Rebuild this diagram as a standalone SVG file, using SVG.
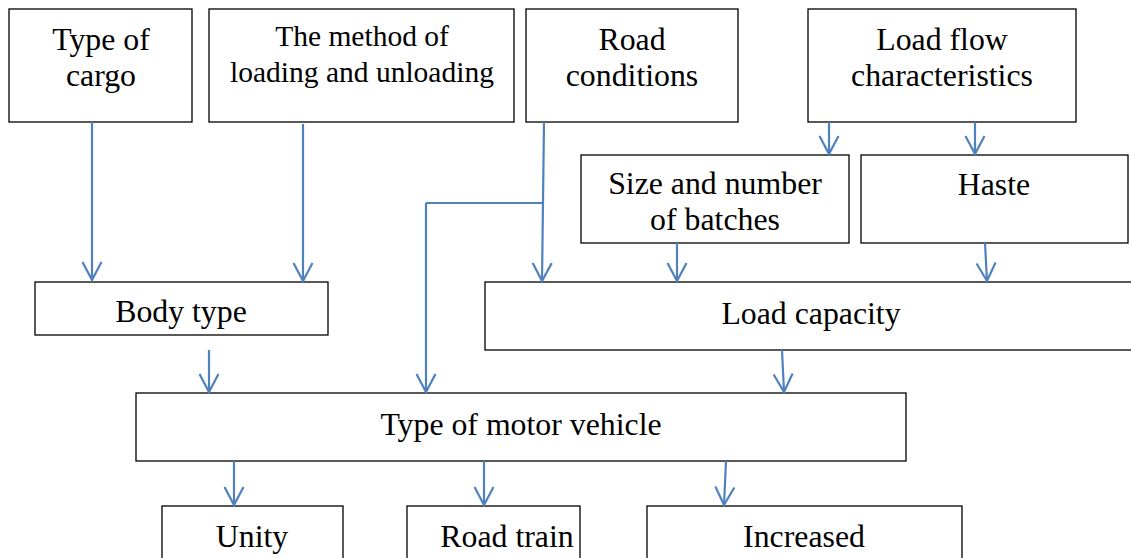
<svg xmlns="http://www.w3.org/2000/svg" width="1131" height="558" viewBox="0 0 1131 558">
<style>
.box{fill:#fff;stroke:#000;stroke-width:1.3}
.t{font-family:"Liberation Serif","Times New Roman",serif;font-size:31.8px;fill:#000;text-anchor:middle}
.s{font-size:29.5px}
.c{fill:none;stroke:#4F81BD;stroke-width:2.2;marker-end:url(#arr)}
.l{fill:none;stroke:#4F81BD;stroke-width:2.2}
</style>
<defs>
<marker id="arr" markerUnits="userSpaceOnUse" viewBox="-20 -12 22 24" markerWidth="22" markerHeight="24" refX="0" refY="0" orient="auto">
<path d="M-18,-9.5 L0,0 L-18,9.5" fill="none" stroke="#4F81BD" stroke-width="2.2"/>
</marker>
</defs>
<rect width="1131" height="558" fill="#fff"/>
<g id="n-cargo"><rect class="box" x="9" y="9" width="183" height="113"/><text class="t" x="101" y="50">Type of</text><text class="t" x="101" y="86">cargo</text></g>
<g id="n-method"><rect class="box" x="209" y="9" width="305" height="113"/><text class="t s" x="362" y="46">The method of</text><text class="t s" x="362" y="82">loading and unloading</text></g>
<g id="n-road"><rect class="box" x="526" y="9" width="212" height="113"/><text class="t" x="632" y="50">Road</text><text class="t" x="632" y="86">conditions</text></g>
<g id="n-flow"><rect class="box" x="808" y="9" width="268" height="113"/><text class="t" x="942" y="50">Load flow</text><text class="t" x="942" y="86">characteristics</text></g>
<g id="n-size"><rect class="box" x="581" y="155" width="268" height="88"/><text class="t" x="715" y="194">Size and number</text><text class="t" x="715" y="230">of batches</text></g>
<g id="n-haste"><rect class="box" x="861" y="155" width="267" height="88"/><text class="t" x="994" y="195">Haste</text></g>
<g id="n-body"><rect class="box" x="35" y="282" width="293" height="53"/><text class="t" x="181" y="322">Body type</text></g>
<g id="n-capacity"><rect class="box" x="485" y="282" width="660" height="68"/><text class="t" x="811" y="324">Load capacity</text></g>
<g id="n-vehicle"><rect class="box" x="136" y="393" width="770" height="68"/><text class="t" x="521" y="435">Type of motor vehicle</text></g>
<g id="n-unity"><rect class="box" x="162" y="506" width="181" height="70"/><text class="t" x="252" y="547">Unity</text></g>
<g id="n-train"><rect class="box" x="407" y="506" width="173" height="70"/><text class="t" x="507" y="547">Road train</text></g>
<g id="n-increased"><rect class="box" x="647" y="506" width="315" height="70"/><text class="t" x="804" y="547">Increased</text></g>
<g id="connectors">
<path class="c" d="M92,122 L92,280"/>
<path class="c" d="M303,124 L303,281"/>
<path class="c" d="M544,122 L542,281"/>
<path class="l" d="M543,203 L426,203"/>
<path class="c" d="M426,203 L426,392"/>
<path class="c" d="M829,122 L829,154"/>
<path class="c" d="M975,122 L975,154"/>
<path class="c" d="M677,243 L677,281"/>
<path class="c" d="M985,243 L987,281"/>
<path class="c" d="M209,350 L209,392"/>
<path class="c" d="M782,350 L784,392"/>
<path class="c" d="M234,461 L234,505"/>
<path class="c" d="M484,461 L484,505"/>
<path class="c" d="M726,461 L724,505"/>
</g>
</svg>
